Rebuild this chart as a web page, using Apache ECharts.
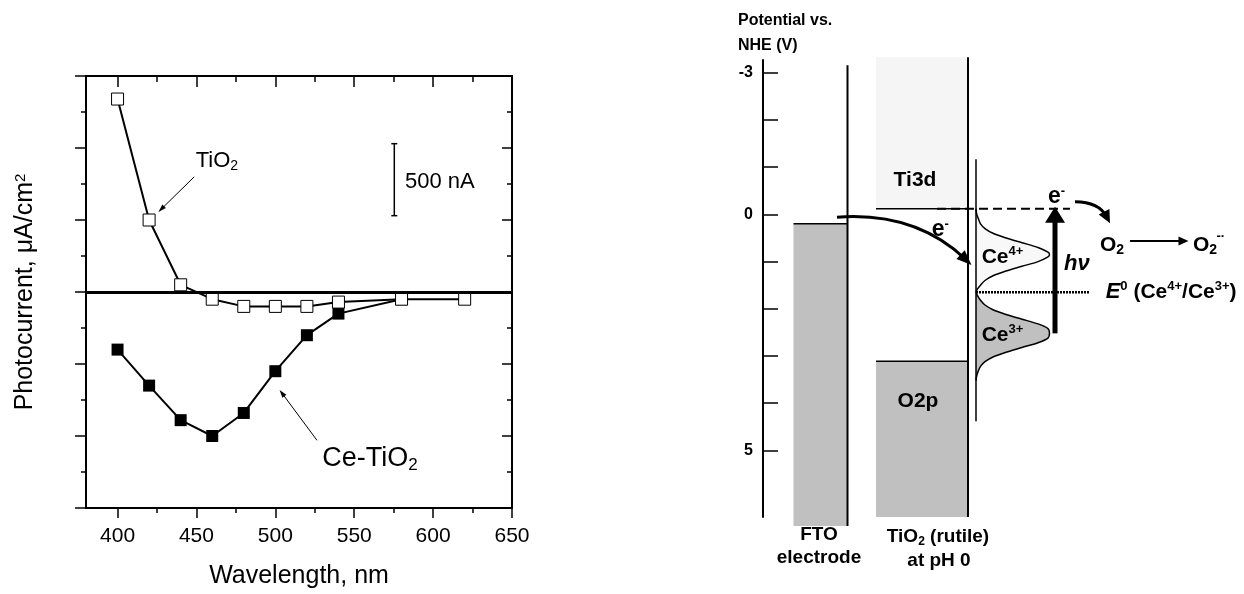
<!DOCTYPE html>
<html>
<head>
<meta charset="utf-8">
<script src="https://cdn.jsdelivr.net/npm/echarts@6.0.0/dist/echarts.min.js"></script>
<style>
html,body{margin:0;padding:0;background:#fff;}
#chart{width:1244px;height:594px;}
</style>
</head>
<body>
<div id="chart"></div>
<script>
// ================= LEFT PANEL DATA =================
const wavelengthTiO2 = [400, 420, 440, 460, 480, 500, 520, 540, 580, 620];
const photocurrentTiO2 = [1.34, 0.50, 0.05, -0.05, -0.10, -0.10, -0.10, -0.07, -0.05, -0.05];
const wavelengthCeTiO2 = [400, 420, 440, 460, 480, 500, 520, 540, 580];
const photocurrentCeTiO2 = [-0.40, -0.65, -0.89, -1.00, -0.84, -0.55, -0.30, -0.15, -0.05];
const xMajorTicks = [400, 450, 500, 550, 600, 650];
const xMinorTicks = [425, 475, 525, 575, 625];
const scaleBarRange = [0.53, 1.03];
const scaleBarText = '500 nA';

// ================= RIGHT PANEL DATA (potential vs. NHE, V) =================
const potentialTicks = [-3, -2, -1, 0, 1, 2, 3, 4, 5];
const potentialTickLabels = [-3, 0, 5];
const ftoFermiLevel = 0.20;
const tio2CBEdge = -0.12;
const tio2VBEdge = 3.11;
const e0CeLevel = 1.65;
const o2Level = 0.566;
// density of states outlines: [potential V, relative width]
const ce4DOS = [[-0.12,0],[0.0,0.8],[0.1,2.5],[0.2,4.5],[0.3,9],[0.4,17],[0.5,30],[0.6,46],[0.7,62],[0.8,72],[0.85,73.5],[0.9,72],[1.0,62],[1.1,46],[1.2,30],[1.3,17],[1.4,9],[1.5,4.5],[1.58,1.5],[1.65,0]];
const ce3DOS = [[1.65,0],[1.72,1.5],[1.82,4.5],[1.92,9],[2.02,17],[2.12,30],[2.22,46],[2.32,62],[2.42,72],[2.52,73.5],[2.62,72],[2.72,62],[2.82,46],[2.92,30],[3.02,17],[3.12,9],[3.22,4.5],[3.32,2.2],[3.42,0.7],[3.52,0]];

// ================= LAYOUT (diagram x units = px from the potential axis) =================
const D = {
  fto: {x0: 30.5, x1: 84.5, bottom: 6.6},
  ftoLine: {x: 84.5, top: -3.16, bottom: 6.6},
  tio2: {x0: 113, x1: 205, top: -3.33, bottom: 6.41},
  ceLine: {x: 213, top: -1.17, bottom: 4.38},
  dash: [174, 307],
  dot: [213, 327],
  hv: {x: 292, from: 2.52, to: -0.16},
  curve1: {from: [74, 0.06], to: [208.5, 1.07], c: 0.22},
  curve2: {from: [312, -0.27], to: [347, 0.19], c: 0.3},
  o2arrow: {x0: 367, x1: 425.5}
};

const F = "'Liberation Sans', Arial, Helvetica, sans-serif";
const GRAY = '#c0c0c0';
const LIGHT = '#f5f5f5';

const chart = echarts.init(document.getElementById('chart'));

function arrowHead(tip, from, len, wid) {
  const dx = tip[0] - from[0], dy = tip[1] - from[1];
  const d = Math.hypot(dx, dy) || 1;
  const ux = dx / d, uy = dy / d;
  const bx = tip[0] - ux * len, by = tip[1] - uy * len;
  return {type: 'polygon', shape: {points: [tip, [bx - uy * wid / 2, by + ux * wid / 2], [bx + uy * wid / 2, by - ux * wid / 2]]}, style: {fill: '#000'}};
}
function segEl(a, b, w, dash) {
  return {type: 'line', shape: {x1: a[0], y1: a[1], x2: b[0], y2: b[1]}, style: {stroke: '#000', lineWidth: w, lineDash: dash || null}};
}
function straightArrow(ch, a, b, w, len, wid) {
  const dx = b[0] - a[0], dy = b[1] - a[1], d = Math.hypot(dx, dy);
  const e = [b[0] - dx / d * len * 0.7, b[1] - dy / d * len * 0.7];
  ch.push(segEl(a, e, w));
  ch.push(arrowHead(b, a, len, wid));
}
function curvedArrow(ch, p0, p1, c, w, len, wid) {
  const cp = [(p0[0] + p1[0]) / 2 - (p0[1] - p1[1]) * c, (p0[1] + p1[1]) / 2 - (p1[0] - p0[0]) * c];
  const dx = p1[0] - cp[0], dy = p1[1] - cp[1], d = Math.hypot(dx, dy);
  const e = [p1[0] - dx / d * len * 0.6, p1[1] - dy / d * len * 0.6];
  ch.push({type: 'bezierCurve', shape: {x1: p0[0], y1: p0[1], x2: e[0], y2: e[1], cpx1: cp[0], cpy1: cp[1]}, style: {stroke: '#000', lineWidth: w, fill: null}});
  ch.push(arrowHead(p1, cp, len, wid));
}
function textEl(p, text, align, rich, vAlign) {
  return {type: 'text', x: p[0], y: p[1], style: {text: text, rich: rich, align: align, verticalAlign: vAlign || 'middle', fill: '#000', fontFamily: F}};
}

const richLeft = {
  m: {fontSize: 22, fontFamily: F, fill: '#000', lineHeight: 24},
  s: {fontSize: 14, fontFamily: F, fill: '#000', verticalAlign: 'bottom'},
  L: {fontSize: 27, fontFamily: F, fill: '#000', lineHeight: 30},
  Ls: {fontSize: 17, fontFamily: F, fill: '#000', verticalAlign: 'bottom'}
};
const richDia = {
  b: {fontSize: 21, fontWeight: 'bold', fontFamily: F, fill: '#000', lineHeight: 24},
  e: {fontSize: 23, fontWeight: 'bold', fontFamily: F, fill: '#000', lineHeight: 24},
  bi: {fontSize: 22, fontWeight: 'bold', fontStyle: 'italic', fontFamily: F, fill: '#000', lineHeight: 24},
  sup: {fontSize: 13, fontWeight: 'bold', fontFamily: F, fill: '#000', verticalAlign: 'top'},
  sub: {fontSize: 14, fontWeight: 'bold', fontFamily: F, fill: '#000', verticalAlign: 'bottom'},
  sup2: {fontSize: 13, fontWeight: 'bold', fontFamily: F, fill: '#000'},
  f: {fontSize: 19, fontWeight: 'bold', fontFamily: F, fill: '#000', lineHeight: 22},
  fs: {fontSize: 12, fontWeight: 'bold', fontFamily: F, fill: '#000', verticalAlign: 'bottom'}
};

function renderLeftNotes(params, api) {
  const P = (x, v) => api.coord([x, v]);
  const ch = [];
  ch.push(textEl(P(449.5, 0.91), '{m|TiO}{s|2}', 'left', richLeft));
  straightArrow(ch, P(448.6, 0.80), P(425.9, 0.556), 1, 8, 5);
  const a = P(575.4, scaleBarRange[0]), b = P(575.4, scaleBarRange[1]);
  ch.push(segEl(a, b, 1.5));
  ch.push(segEl([a[0] - 3, a[1]], [a[0] + 3, a[1]], 1.5));
  ch.push(segEl([b[0] - 3, b[1]], [b[0] + 3, b[1]], 1.5));
  ch.push(textEl(P(582.2, 0.762), '{m|' + scaleBarText + '}', 'left', richLeft));
  ch.push(textEl(P(529.8, -1.16), '{L|Ce-TiO}{Ls|2}', 'left', richLeft));
  straightArrow(ch, P(526.4, -1.03), P(502.7, -0.68), 1, 8, 5);
  return {type: 'group', children: ch};
}

function renderDiagram(params, api) {
  const P = (x, v) => api.coord([x, v]);
  const ch = [];
  const rect = (x0, v0, x1, v1, fill) => {
    const a = P(x0, v0), b = P(x1, v1);
    ch.push({type: 'rect', shape: {x: Math.min(a[0], b[0]), y: Math.min(a[1], b[1]), width: Math.abs(b[0] - a[0]), height: Math.abs(b[1] - a[1])}, style: {fill: fill}});
  };
  const seg = (x0, v0, x1, v1, w, dash) => ch.push(segEl(P(x0, v0), P(x1, v1), w, dash));
  const lobe = (dos, fill) => {
    const pts = dos.map(d => P(D.ceLine.x + d[1], d[0]));
    const first = dos[0][0], last = dos[dos.length - 1][0];
    const back = [];
    for (let k = 1; k <= 4; k++) back.push(P(D.ceLine.x, last + (first - last) * k / 5));
    ch.push({type: 'polygon', shape: {points: pts.concat(back), smooth: 0.3}, style: {fill: fill, stroke: null}});
    ch.push({type: 'polyline', shape: {points: pts, smooth: 0.3}, style: {stroke: '#000', lineWidth: 1.5, fill: null}});
  };
  // FTO electrode
  rect(D.fto.x0, ftoFermiLevel, D.fto.x1, D.fto.bottom, GRAY);
  seg(D.fto.x0, ftoFermiLevel, D.fto.x1, ftoFermiLevel, 1.5);
  seg(D.ftoLine.x, D.ftoLine.top, D.ftoLine.x, D.ftoLine.bottom, 2);
  // TiO2 bands
  rect(D.tio2.x0, D.tio2.top, D.tio2.x1, tio2CBEdge, LIGHT);
  rect(D.tio2.x0, tio2VBEdge, D.tio2.x1, D.tio2.bottom, GRAY);
  seg(D.tio2.x0, tio2CBEdge, D.tio2.x1, tio2CBEdge, 1.5);
  seg(D.tio2.x0, tio2VBEdge, D.tio2.x1, tio2VBEdge, 1.5);
  seg(D.tio2.x1, D.tio2.top, D.tio2.x1, D.tio2.bottom, 2);
  // Ce states
  lobe(ce4DOS, '#f8f8f8');
  lobe(ce3DOS, GRAY);
  seg(D.ceLine.x, D.ceLine.top, D.ceLine.x, D.ceLine.bottom, 1.5);
  // levels
  seg(D.dash[0], tio2CBEdge, D.dash[1], tio2CBEdge, 2, [9, 5]);
  seg(D.dot[0], e0CeLevel, D.dot[1], e0CeLevel, 2.5, [2, 1]);
  // arrows
  curvedArrow(ch, P(D.curve1.from[0], D.curve1.from[1]), P(D.curve1.to[0], D.curve1.to[1]), D.curve1.c, 3, 15, 12);
  curvedArrow(ch, P(D.curve2.from[0], D.curve2.from[1]), P(D.curve2.to[0], D.curve2.to[1]), D.curve2.c, 3, 13, 12);
  straightArrow(ch, P(D.hv.x, D.hv.from), P(D.hv.x, D.hv.to), 5, 16, 20);
  straightArrow(ch, P(D.o2arrow.x0, o2Level), P(D.o2arrow.x1, o2Level), 2, 10, 9);
  // labels
  ch.push(textEl(P(152, -0.72), '{b|Ti3d}', 'center', richDia));
  ch.push(textEl(P(155, 3.96), '{b|O2p}', 'center', richDia));
  ch.push(textEl(P(168.7, 0.33), '{e|e}{sup|-}', 'left', richDia));
  ch.push(textEl(P(218.7, 0.90), '{b|Ce}{sup|4+}', 'left', richDia));
  ch.push(textEl(P(218.7, 2.56), '{b|Ce}{sup|3+}', 'left', richDia));
  ch.push(textEl(P(301, 1.04), '{bi|hν}', 'left', richDia));
  ch.push(textEl(P(285, -0.37), '{e|e}{sup|-}', 'left', richDia));
  ch.push(textEl(P(337, 0.65), '{b|O}{sub|2}', 'left', richDia));
  ch.push(textEl(P(430, 0.65), '{b|O}{sub|2}', 'left', richDia));
  ch.push(textEl(P(453.5, 0.47), '{sup2|-·}', 'left', richDia));
  ch.push(textEl(P(342.7, 1.64), '{bi|E}{sup|0}{b| (Ce}{sup|4+}{b|/Ce}{sup|3+}{b|)}', 'left', richDia));
  ch.push(textEl(P(56, 6.79), '{f|FTO}', 'center', richDia));
  ch.push(textEl(P(56, 7.27), '{f|electrode}', 'center', richDia));
  ch.push(textEl(P(175, 6.82), '{f|TiO}{fs|2}{f| (rutile)}', 'center', richDia));
  ch.push(textEl(P(176, 7.33), '{f|at pH 0}', 'center', richDia));
  return {type: 'group', children: ch};
}

const axisLineStyle = {color: '#000', width: 2};
const tickStyle = {color: '#000', width: 1.5};
function xAx(pos, ticks, len, inside, extra) {
  return Object.assign({
    gridIndex: 0, type: 'value', min: 380, max: 650, position: pos,
    axisLine: {show: true, onZero: false, lineStyle: axisLineStyle},
    axisTick: {show: true, customValues: ticks, length: len, inside: inside, lineStyle: tickStyle},
    axisLabel: {show: false},
    splitLine: {show: false}
  }, extra || {});
}

const option = {
  animation: false,
  backgroundColor: '#fff',
  textStyle: {fontFamily: F, color: '#000'},
  grid: [
    {left: 86, top: 76, width: 426, height: 436},
    {left: 763, top: 60, width: 477, height: 457}
  ],
  graphic: [{
    type: 'text', left: 738, top: 8,
    style: {text: 'Potential vs.\nNHE (V)', fontSize: 16, fontWeight: 'bold', fontFamily: F, fill: '#000', lineHeight: 25}
  }],
  xAxis: [
    xAx('bottom', xMajorTicks, 10, false, {
      axisLabel: {show: true, customValues: xMajorTicks, fontSize: 21, color: '#000', margin: 18, fontFamily: F},
      name: 'Wavelength, nm', nameLocation: 'middle', nameGap: 56,
      nameTextStyle: {fontSize: 25, color: '#000', fontFamily: F}
    }),
    xAx('bottom', xMinorTicks, 5, false),
    xAx('top', xMajorTicks, 11, true),
    xAx('top', xMinorTicks, 6, true),
    {gridIndex: 1, type: 'value', min: 0, max: 477, show: false}
  ],
  yAxis: [
    {
      gridIndex: 0, type: 'value', min: -1.5, max: 1.5, interval: 0.5, position: 'left',
      axisLine: {show: true, onZero: false, lineStyle: axisLineStyle},
      axisTick: {show: true, length: 11, inside: false, lineStyle: tickStyle},
      minorTick: {show: true, splitNumber: 2, length: 5, lineStyle: tickStyle},
      axisLabel: {show: false}, splitLine: {show: false}, minorSplitLine: {show: false},
      name: 'Photocurrent, μA/cm{sup|2}', nameLocation: 'middle', nameGap: 48, nameRotate: 90,
      nameTextStyle: {fontSize: 25, color: '#000', fontFamily: F,
        rich: {sup: {fontSize: 15, color: '#000', fontFamily: F, verticalAlign: 'top'}}}
    },
    {
      gridIndex: 0, type: 'value', min: -1.5, max: 1.5, interval: 0.5, position: 'right',
      axisLine: {show: true, onZero: false, lineStyle: axisLineStyle},
      axisTick: {show: true, length: 10, inside: true, lineStyle: tickStyle},
      minorTick: {show: true, splitNumber: 2, length: 5, lineStyle: tickStyle},
      axisLabel: {show: false}, splitLine: {show: false}, minorSplitLine: {show: false}
    },
    {
      gridIndex: 1, type: 'value', min: -3.27, max: 6.41, inverse: true, position: 'left',
      axisLine: {show: true, onZero: false, lineStyle: axisLineStyle},
      axisTick: {show: true, customValues: potentialTicks, length: 15, inside: true, lineStyle: tickStyle},
      axisLabel: {show: true, customValues: potentialTickLabels, fontSize: 16, fontWeight: 'bold', color: '#000', margin: 10, fontFamily: F},
      splitLine: {show: false}
    }
  ],
  series: [
    {
      name: 'Ce-TiO2', type: 'line', xAxisIndex: 0, yAxisIndex: 0, z: 3,
      data: wavelengthCeTiO2.map((w, i) => [w, photocurrentCeTiO2[i]]),
      symbol: 'rect', symbolSize: 12, showSymbol: true,
      itemStyle: {color: '#000'}, lineStyle: {color: '#000', width: 2},
      emphasis: {disabled: true},
      markLine: {silent: true, symbol: ['none', 'none'], label: {show: false},
        lineStyle: {color: '#000', width: 3, type: 'solid'}, data: [{yAxis: 0}]}
    },
    {
      name: 'TiO2', type: 'line', xAxisIndex: 0, yAxisIndex: 0, z: 4,
      data: wavelengthTiO2.map((w, i) => [w, photocurrentTiO2[i]]),
      symbol: 'rect', symbolSize: 12, showSymbol: true,
      itemStyle: {color: '#fff', borderColor: '#000', borderWidth: 1},
      lineStyle: {color: '#000', width: 2},
      emphasis: {disabled: true}
    },
    {
      type: 'custom', xAxisIndex: 0, yAxisIndex: 0, z: 5, clip: false, silent: true,
      data: [[500, 0]], renderItem: renderLeftNotes
    },
    {
      type: 'custom', xAxisIndex: 4, yAxisIndex: 2, z: 5, clip: false, silent: true,
      data: [[100, 0]], renderItem: renderDiagram
    }
  ]
};
chart.setOption(option);
</script>
</body>
</html>
